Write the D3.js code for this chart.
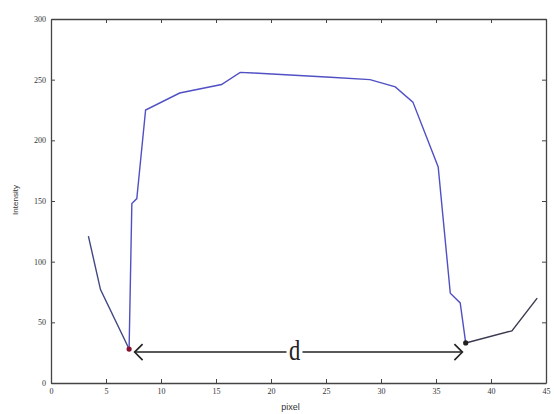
<!DOCTYPE html>
<html>
<head>
<meta charset="utf-8">
<script src="https://cdn.jsdelivr.net/npm/d3@7"></script>
<style>
  body { margin: 0; background: #fff; }
  svg { display: block; }
</style>
</head>
<body>
<div id="chart"></div>
<script>
// profile values
const leftTail = [[3.4, 121], [4.5, 77], [7.1, 28]];
const profile = [
  [7.1, 28], [7.35, 148], [7.8, 152], [8.6, 225], [11.7, 239], [15.5, 246],
  [17.2, 256], [18.4, 255.5], [25.4, 252], [29, 250], [31.3, 244],
  [32.9, 231.5], [35.2, 178], [36.3, 74], [37.2, 66], [37.7, 33]
];
const rightTail = [[37.7, 33], [41.9, 43], [44.2, 70]];
const edgePoints = [[7.1, 28, "#8a1030"], [37.7, 33, "#222"]];
const arrow = { x0: 7.6, x1: 37.4, y: 25.5, label: "d" };
const xTicks = d3.range(0, 46, 5);
const yTicks = d3.range(0, 301, 50);

const width = 554, height = 414;
const m = { top: 19, right: 8, bottom: 31, left: 51 };

const svg = d3.select("#chart").append("svg")
  .attr("width", width).attr("height", height);

const x = d3.scaleLinear().domain([0, 45]).range([m.left, width - m.right]);
const y = d3.scaleLinear().domain([0, 300]).range([height - m.bottom, m.top]);

const line = d3.line().x((d) => x(d[0])).y((d) => y(d[1]));

// axes, matlab style box with inner ticks
const axisColor = "#444";
const styleAxis = (g) => {
  g.select(".domain").attr("stroke", axisColor).attr("stroke-width", 1.3);
  g.selectAll(".tick line").attr("stroke", axisColor);
  g.selectAll(".tick text")
    .attr("fill", "#333")
    .style("font-family", "Liberation Serif, serif")
    .style("font-size", "8px");
};
svg.append("g")
  .attr("transform", `translate(0,${y(0)})`)
  .call(d3.axisBottom(x).tickValues(xTicks).tickSizeInner(-4).tickSizeOuter(0).tickPadding(5))
  .call(styleAxis);
svg.append("g")
  .attr("transform", `translate(0,${y(300)})`)
  .call(d3.axisTop(x).tickValues(xTicks).tickSizeInner(-4).tickSizeOuter(0).tickFormat(""))
  .call(styleAxis);
svg.append("g")
  .attr("transform", `translate(${x(0)},0)`)
  .call(d3.axisLeft(y).tickValues(yTicks).tickSizeInner(-4).tickSizeOuter(0).tickPadding(5))
  .call(styleAxis);
svg.append("g")
  .attr("transform", `translate(${x(45)},0)`)
  .call(d3.axisRight(y).tickValues(yTicks).tickSizeInner(-4).tickSizeOuter(0).tickFormat(""))
  .call(styleAxis);

// labels
svg.append("text")
  .attr("x", (x(0) + x(45)) / 2 - 8).attr("y", height - 4)
  .attr("text-anchor", "middle")
  .style("font-family", "Liberation Sans, sans-serif").style("font-size", "9px")
  .attr("fill", "#333").text("pixel");
svg.append("text")
  .attr("transform", `translate(18,${(y(0) + y(300)) / 2 - 1}) rotate(-90)`)
  .attr("text-anchor", "middle")
  .style("font-family", "Liberation Sans, sans-serif").style("font-size", "8px")
  .attr("fill", "#333").text("Intensity");

// curves
svg.append("path").datum(leftTail)
  .attr("d", line).attr("fill", "none").attr("stroke", "#404880").attr("stroke-width", 1.4);
svg.append("path").datum(rightTail)
  .attr("d", line).attr("fill", "none").attr("stroke", "#3a3a50").attr("stroke-width", 1.4);
svg.append("path").datum(profile)
  .attr("d", line).attr("fill", "none").attr("stroke", "#5050c4").attr("stroke-width", 1.4);

svg.selectAll("circle.edge").data(edgePoints).join("circle")
  .attr("class", "edge")
  .attr("cx", (d) => x(d[0])).attr("cy", (d) => y(d[1]))
  .attr("r", 2.6).attr("fill", (d) => d[2]);

// distance arrow
const ay = y(arrow.y);
const ax0 = x(arrow.x0), ax1 = x(arrow.x1);
const mid = (ax0 + ax1) / 2 - 4;
const arr = svg.append("g").attr("stroke", "#222").attr("stroke-width", 1.6).attr("fill", "none");
arr.append("line").attr("x1", ax0).attr("x2", mid - 8).attr("y1", ay).attr("y2", ay);
arr.append("line").attr("x1", mid + 8).attr("x2", ax1).attr("y1", ay).attr("y2", ay);
arr.append("path").attr("d", `M${ax0 + 8},${ay - 8} L${ax0},${ay} L${ax0 + 8},${ay + 8}`);
arr.append("path").attr("d", `M${ax1 - 8},${ay - 8} L${ax1},${ay} L${ax1 - 8},${ay + 8}`);
svg.append("text")
  .attr("transform", `translate(${mid},${ay + 8}) scale(0.75,1)`)
  .attr("text-anchor", "middle")
  .style("font-family", "Liberation Serif, serif").style("font-size", "30px")
  .attr("fill", "#222").text(arrow.label);
</script>
</body>
</html>
